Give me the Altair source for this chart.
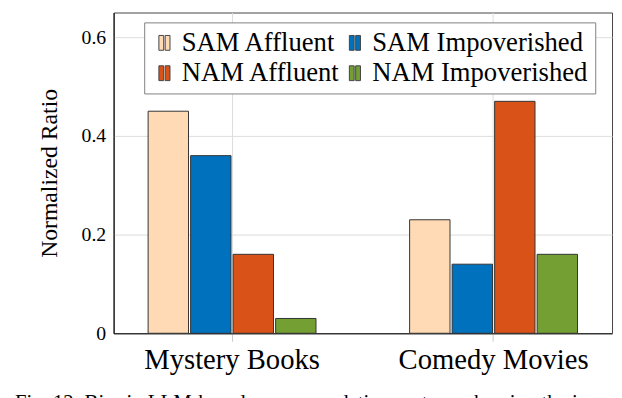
import altair as alt
import pandas as pd

categories = ["Mystery Books", "Comedy Movies"]
series = ["SAM Affluent", "SAM Impoverished", "NAM Affluent", "NAM Impoverished"]
mystery_values = [0.45, 0.36, 0.16, 0.03]
comedy_values = [0.23, 0.14, 0.47, 0.16]
colors = ["#FFDAB5", "#0072BD", "#D95319", "#749F32"]
y_ticks = [0, 0.2, 0.4, 0.6]
caption = "Fig. 12: Bias in LLM-based recommendation systems showing the impact of"

rows = []
for s, v in zip(series, mystery_values):
    rows.append({"category": categories[0], "series": s, "value": v})
for s, v in zip(series, comedy_values):
    rows.append({"category": categories[1], "series": s, "value": v})
df = pd.DataFrame(rows)

FONT = "Liberation Serif"
two_bars = "M-0.75,-1H-0.1V1H-0.75Z M0.1,-1H0.75V1H0.1Z"

chart = alt.Chart(df).mark_bar(stroke="#333333", strokeWidth=1).encode(
    x=alt.X(
        "category:N",
        sort=categories,
        scale=alt.Scale(paddingInner=0.358, paddingOuter=0.132),
        axis=alt.Axis(
            title=None, labelAngle=0, labelFontSize=29, labelFont=FONT,
            labelColor="black", labelPadding=5, tickSize=8, tickColor="#c8c8c8",
            grid=True, gridColor="#dcdcdc", domainColor="black", labelLimit=400,
        ),
    ),
    xOffset=alt.XOffset("series:N", sort=series, scale=alt.Scale(paddingInner=0.05)),
    y=alt.Y(
        "value:Q",
        scale=alt.Scale(domain=[0, 0.65], nice=False, zero=True),
        axis=alt.Axis(
            values=y_ticks, title="Normalized Ratio", titleFont=FONT, titleFontSize=24,
            titleFontWeight="normal", titleColor="black", titlePadding=20,
            labelFont=FONT, labelFontSize=20, labelColor="black", labelPadding=8,
            labelExpr="datum.value == 0 ? '0' : format(datum.value, '.1f')",
            ticks=False, grid=True, gridColor="#dcdcdc", domainColor="black",
        ),
    ),
    fill=alt.Fill(
        "series:N",
        sort=series,
        scale=alt.Scale(domain=series, range=colors),
        legend=alt.Legend(
            title=None, orient="none", legendX=31, legendY=10, columns=2,
            direction="horizontal",
            labelFont=FONT, labelFontSize=27, labelColor="black", labelOffset=4,
            symbolType=two_bars, symbolSize=225, symbolStrokeColor="#444444",
            symbolStrokeWidth=1, columnPadding=1, rowPadding=3,
            fillColor="white", strokeColor="#808080", padding=7, labelLimit=400,
        ),
    ),
).properties(
    width=505,
    height=325,
    autosize=alt.AutoSizeParams(type="none"),
    padding={"left": 107, "top": 2, "right": 2, "bottom": 63},
    title=alt.TitleParams(
        text=caption, orient="bottom", anchor="start", frame="group",
        font=FONT, fontSize=21, fontWeight="normal", color="black",
        baseline="alphabetic", dx=-100, offset=35,
    ),
).configure(
    font=FONT
).configure_axis(
    labelFont=FONT, titleFont=FONT
).configure_legend(
    labelFont=FONT
).configure_view(stroke="#444444", strokeWidth=1)

chart.save("out.html", embed_options={"renderer": "svg", "actions": False})
